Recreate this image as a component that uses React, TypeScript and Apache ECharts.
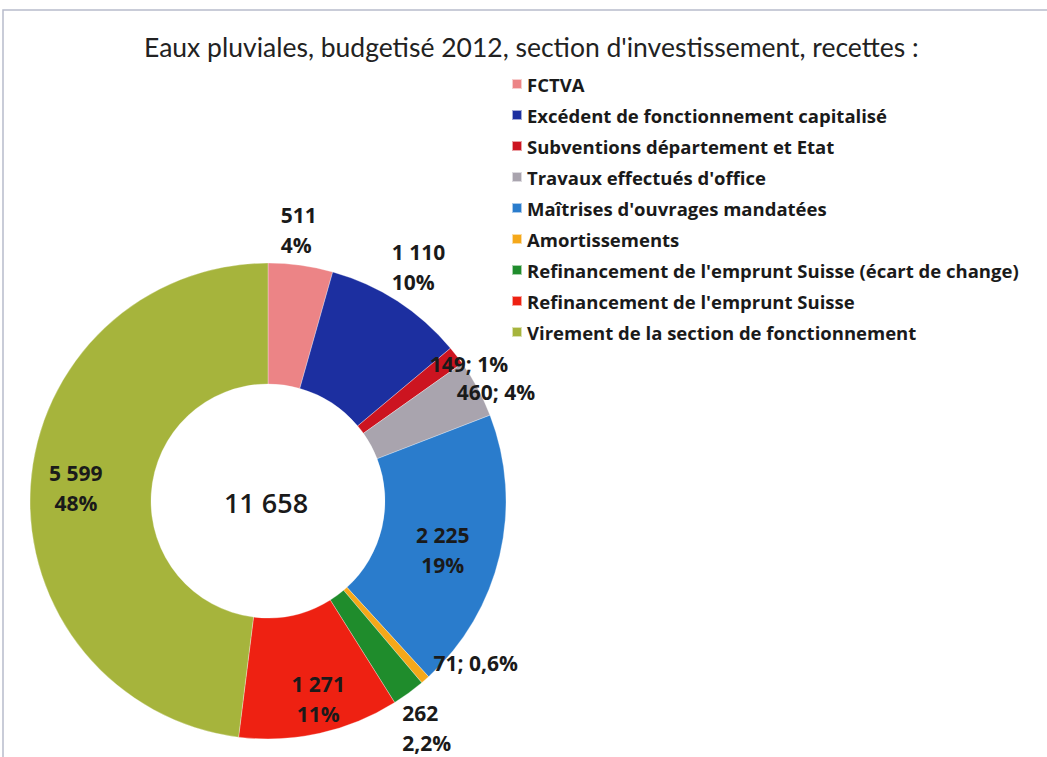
import React, { useEffect, useRef } from "react";
import * as echarts from "echarts";

const categories = [
  "FCTVA",
  "Excédent de fonctionnement capitalisé",
  "Subventions département et Etat",
  "Travaux effectués d'office",
  "Maîtrises d'ouvrages mandatées",
  "Amortissements",
  "Refinancement de l'emprunt Suisse (écart de change)",
  "Refinancement de l'emprunt Suisse",
  "Virement de la section de fonctionnement",
];
const values = [511, 1110, 149, 460, 2225, 71, 262, 1271, 5599];
const colors = [
  "#ec8486",
  "#1c2fa0",
  "#cc1420",
  "#a9a4ae",
  "#2a7ccc",
  "#f5a81a",
  "#1f8c2c",
  "#ee2112",
  "#a6b43c",
];
const percentDecimals = [0, 0, 0, 0, 0, 1, 1, 0, 0];
const labelInline = [false, false, true, true, false, true, false, false, false];
const labelInside = [false, false, false, false, true, false, false, true, true];
const labelShift: [number, number][] = [
  [-26, -27],
  [-15, -27],
  [-38, 13],
  [-33, 7],
  [-1, 8],
  [-2, -23],
  [-16, 28],
  [11, 22],
  [-12, -2],
];
const titleText = "Eaux pluviales, budgetisé 2012, section d'investissement, recettes :";

const TITLE_FONT = "Lato, 'Open Sans', sans-serif";
const FONT = "'Open Sans', Lato, sans-serif";

function fmtNum(n: number): string {
  return String(n).replace(/\B(?=(\d{3})+(?!\d))/g, " ");
}

export default function App() {
  const ref = useRef<HTMLDivElement>(null);
  useEffect(() => {
    if (!ref.current) return;
    const chart = echarts.init(ref.current, null, { renderer: "svg" });
    const total = values.reduce((a, b) => a + b, 0);
    const cx = 268;
    const cy = 501;
    const data = values.map((v, i) => {
      const pct = ((v / total) * 100).toFixed(percentDecimals[i]).replace(".", ",") + "%";
      const txt = labelInline[i] ? `${fmtNum(v)}; ${pct}` : `${fmtNum(v)}\n${pct}`;
      return {
        name: categories[i],
        value: v,
        itemStyle: { color: colors[i] },
        label: {
          show: true,
          position: labelInside[i] ? "inside" : "outside",
          formatter: txt,
          lineHeight: labelInline[i] ? 18 : 30,
        },
      };
    });
    chart.setOption({
      animation: false,
      backgroundColor: "#ffffff",
      title: {
        text: titleText,
        left: 139,
        top: 28,
        textStyle: { fontFamily: TITLE_FONT, fontSize: 26.5, fontWeight: "normal", color: "#222" },
      },
      legend: {
        orient: "vertical",
        left: 506,
        top: 69,
        icon: "rect",
        itemWidth: 10,
        itemHeight: 10,
        itemGap: 11,
        data: categories,
        textStyle: {
          fontFamily: FONT,
          fontSize: 18.5,
          fontWeight: "bold",
          color: "#1a1a1a",
          lineHeight: 20,
        },
      },
      graphic: [
        {
          type: "rect",
          shape: { x: 3, y: 10, width: 1070, height: 770 },
          style: { fill: "none", stroke: "#b8bccc", lineWidth: 1.5 },
          silent: true,
        },
        {
          type: "text",
          x: cx - 2,
          y: cy + 1,
          style: {
            text: fmtNum(total),
            fontFamily: FONT,
            fontSize: 27,
            fontWeight: 600,
            fill: "#1a1a1a",
            align: "center",
            verticalAlign: "middle",
          },
        },
      ],
      series: [
        {
          type: "pie",
          center: [cx, cy],
          radius: [117, 238],
          startAngle: 90,
          clockwise: true,
          avoidLabelOverlap: false,
          itemStyle: { borderColor: "rgba(255,255,255,0.6)", borderWidth: 0.5 },
          label: {
            fontFamily: FONT,
            fontSize: 21,
            fontWeight: "bold",
            color: "#1a1a1a",
            lineHeight: 30,
            align: "center",
          },
          labelLine: { show: false, length: 8, length2: 0 },
          labelLayout: (params: any) => {
            const s = labelShift[params.dataIndex] || [0, 0];
            return { dx: s[0], dy: s[1] };
          },
          data,
        },
      ],
    });
    return () => chart.dispose();
  }, []);
  return (
    <div
      ref={ref}
      style={{ position: "absolute", left: 0, top: 0, width: 1047, height: 757 }}
    />
  );
}
